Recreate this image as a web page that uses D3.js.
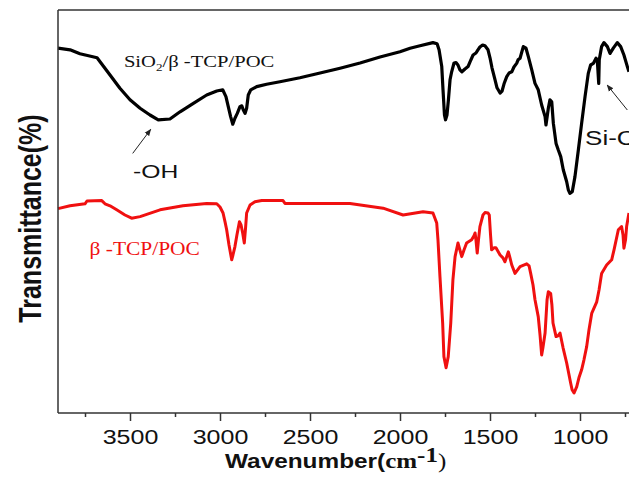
<!DOCTYPE html>
<html><head><meta charset="utf-8">
<script src="https://cdn.jsdelivr.net/npm/d3@7"></script>
<style>html,body{margin:0;padding:0;background:#fff;overflow:hidden}</style>
</head><body>
<script>
// ---- data (wavenumber cm-1, transmittance %) ----
const blackWn = [3900,3833,3778,3683,3611,3556,3500,3444,3389,3343,3278,3222,3148,3074,3018,2985,2967,2954,2941,2929,2917,2904,2889,2879,2871,2861,2852,2843,2829,2796,2741,2667,2556,2444,2333,2222,2111,2000,1944,1889,1817,1794,1783,1768,1761,1753,1747,1739,1731,1722,1713,1700,1689,1678,1667,1656,1639,1622,1611,1594,1578,1567,1556,1541,1528,1511,1500,1489,1472,1461,1444,1433,1422,1407,1394,1379,1367,1352,1344,1333,1315,1300,1287,1268,1250,1232,1213,1194,1189,1176,1167,1157,1148,1133,1121,1107,1093,1074,1065,1056,1043,1028,1009,991,972,954,941,926,911,904,896,893,880,867,848,833,815,793,774,756,737,728];
const blackT = [91.2,90.8,89.8,88.8,84.5,81.2,78.3,76.2,74.5,73.3,73.5,75.3,77.4,79.5,80.5,80.8,79.1,76.6,74.1,72.2,73.7,74.9,76.6,76.8,75.8,74.9,76.2,79.5,80.8,81.6,82.2,82.8,83.8,85.0,86.2,87.5,89.0,90.3,91.2,91.8,92.6,92.3,90.8,86.6,80.8,74.5,73.3,74.5,78.3,83.3,85.3,87.5,87.6,87.0,85.8,85.3,86.0,86.6,87.8,89.5,90.0,90.8,91.5,92.0,91.8,90.8,88.8,86.3,83.3,81.3,80.0,80.5,82.3,84.1,85.0,85.3,86.5,87.4,88.3,88.7,91.6,91.2,89.1,85.8,82.4,80.8,77.0,74.1,72.0,76.2,78.3,77.8,72.4,67.4,65.8,64.1,60.8,57.8,55.8,54.9,55.3,59.1,65.8,72.4,79.1,84.9,87.0,87.4,88.7,88.3,82.4,88.3,91.6,92.6,91.6,89.9,91.2,92.6,91.6,89.5,86.6,85.3];

const redWn = [3900,3833,3750,3739,3657,3639,3611,3574,3528,3491,3444,3333,3206,3074,3018,3000,2983,2972,2963,2950,2935,2928,2917,2906,2892,2883,2874,2865,2858,2852,2833,2806,2768,2650,2639,2278,2094,1983,1872,1817,1796,1789,1778,1763,1756,1744,1732,1718,1706,1694,1678,1657,1644,1630,1602,1589,1583,1578,1571,1564,1556,1539,1528,1511,1504,1497,1491,1478,1467,1444,1428,1417,1398,1389,1379,1361,1333,1296,1283,1274,1261,1250,1232,1222,1213,1206,1194,1183,1176,1163,1156,1150,1133,1122,1111,1094,1074,1052,1044,1033,1018,1006,991,978,963,950,935,907,894,880,852,824,811,787,769,761,756,747,741,728];
const redT = [51.1,51.8,52.3,53.0,53.1,52.3,51.8,50.8,49.5,48.7,49.1,50.8,51.8,52.4,52.3,51.5,50.0,47.8,45.8,42.0,38.3,39.5,41.6,44.5,47.8,47.0,45.0,42.5,46.3,50.0,52.0,52.8,53.1,53.1,52.4,52.4,51.2,49.5,50.3,50.0,47.5,43.3,34.1,22.5,14.1,11.3,14.1,22.5,33.3,39.1,42.5,39.1,40.8,42.5,43.3,44.3,45.0,43.3,40.0,43.3,46.6,49.5,50.1,50.0,49.5,44.5,40.8,41.3,41.3,39.5,38.8,37.8,40.3,38.8,37.0,34.9,36.6,37.3,36.8,34.9,32.0,28.3,24.1,19.5,14.5,16.3,20.0,28.3,30.3,29.9,27.0,22.5,19.1,19.3,20.0,16.3,12.5,7.5,5.8,5.0,6.6,8.8,10.8,13.3,16.6,20.8,24.9,27.8,30.8,34.9,37.0,38.3,40.8,45.8,46.6,44.5,41.2,43.3,46.6,50.0];

const majorTicks = [3500,3000,2500,2000,1500,1000];
const minorTicks = [3750,3250,2750,2250,1750,1250,750];
const xTitle = "Wavenumber(";
const yTitle = "Transmittance(%)";
const labelBlack = "SiO2/β -TCP/POC";
const labelRed = "β -TCP/POC";

// ---- drawing ----
const W = 629, H = 480;
const SX = 1.25; // horizontal text stretch seen in the reference
const svg = d3.select("body").append("svg").attr("width", W).attr("height", H)
  .style("font-family", "'Liberation Sans', Arial, sans-serif");

const x = d3.scaleLinear().domain([3900, 700]).range([58, 634]);
const y = d3.scaleLinear().domain([0, 100.75]).range([413, 10]);

const line = d3.line().x(d => x(d[0])).y(d => y(d[1]));
const blackData = blackWn.map((w, i) => [w, blackT[i]]);
const redData = redWn.map((w, i) => [w, redT[i]]);

svg.append("path").datum(redData).attr("d", line)
  .attr("fill", "none").attr("stroke", "#f01010").attr("stroke-width", 3).attr("stroke-linejoin", "round");
svg.append("path").datum(blackData).attr("d", line)
  .attr("fill", "none").attr("stroke", "#000").attr("stroke-width", 3.2).attr("stroke-linejoin", "round");

// frame
const frameColor = "#333";
svg.append("line").attr("x1", x(3900)).attr("x2", W).attr("y1", y(100.75)).attr("y2", y(100.75))
  .attr("stroke", frameColor).attr("stroke-width", 1.5);
svg.append("line").attr("x1", x(3900)).attr("x2", x(3900)).attr("y1", y(100.75)).attr("y2", y(0))
  .attr("stroke", frameColor).attr("stroke-width", 1.5);

// x axis
const gx = svg.append("g").attr("transform", `translate(0,${y(0)})`)
  .call(d3.axisBottom(x).tickValues(majorTicks).tickSize(8).tickSizeOuter(0).tickFormat(d3.format("d")));
gx.select(".domain").attr("stroke", frameColor).attr("stroke-width", 1.5).attr("d", `M${x(3900)},0H${W}`);
gx.selectAll(".tick line").attr("stroke", frameColor).attr("stroke-width", 1.5);
gx.selectAll(".tick text").attr("y", 31).attr("dy", 0).attr("fill", "#111")
  .attr("font-size", 20).attr("font-family", "'Liberation Sans', Arial, sans-serif")
  .attr("transform", `scale(${SX},1)`);
const gxm = svg.append("g").attr("transform", `translate(0,${y(0)})`)
  .call(d3.axisBottom(x).tickValues(minorTicks).tickSize(4).tickSizeOuter(0).tickFormat(""));
gxm.select(".domain").remove();
gxm.selectAll(".tick line").attr("stroke", frameColor).attr("stroke-width", 1.5);

// x title
const xt = svg.append("text").attr("transform", `translate(225,467.5) scale(${SX},1)`)
  .attr("fill", "#111");
xt.append("tspan").text(xTitle).attr("font-weight", "bold").attr("font-size", 19.5);
xt.append("tspan").text("cm").attr("font-family", "'Liberation Serif', 'Times New Roman', serif")
  .attr("font-weight", "bold").attr("font-size", 20);
xt.append("tspan").text("-1").attr("font-family", "'Liberation Serif', 'Times New Roman', serif")
  .attr("font-weight", "bold").attr("font-size", 20).attr("dy", -6);
xt.append("tspan").text(")").attr("font-family", "'Liberation Serif', 'Times New Roman', serif")
  .attr("font-size", 20).attr("dy", 6);

// y title
svg.append("text").attr("transform", `translate(41,218.5) scale(${SX},1) rotate(-90)`)
  .attr("text-anchor", "middle").attr("font-weight", "bold").attr("font-size", 25)
  .attr("fill", "#111").text(yTitle);

// series labels
const lb = svg.append("text").attr("transform", `translate(${x(3534)},${y(86.6)}) scale(${SX},1)`)
  .attr("font-family", "'Liberation Serif', 'Times New Roman', serif").attr("font-size", 16.5).attr("fill", "#111");
lb.append("tspan").text(labelBlack.slice(0, 3));
lb.append("tspan").text("2").attr("font-size", 10.5).attr("dy", 4);
lb.append("tspan").text(labelBlack.slice(4)).attr("dy", -4);

svg.append("text").attr("transform", `translate(${x(3725)},${y(39.5)}) scale(1.16,1)`)
  .attr("font-family", "'Liberation Serif', 'Times New Roman', serif").attr("font-size", 18.5)
  .attr("fill", "#f01010").text(labelRed);

// annotations
const defs = svg.append("defs");
defs.append("marker").attr("id", "ah").attr("viewBox", "0 0 10 10").attr("refX", 9).attr("refY", 5)
  .attr("markerWidth", 7).attr("markerHeight", 7).attr("orient", "auto")
  .append("path").attr("d", "M0,1 L10,5 L0,9 Z").attr("fill", "#222");

svg.append("line").attr("x1", x(3485)).attr("y1", y(64.9)).attr("x2", x(3385)).attr("y2", y(70.9))
  .attr("stroke", "#222").attr("stroke-width", 1).attr("marker-end", "url(#ah)");
svg.append("text").attr("transform", `translate(${x(3483)},${y(58.8)}) scale(1.3,1)`)
  .attr("font-size", 19).attr("fill", "#111").text("-OH");

svg.append("line").attr("x1", x(737)).attr("y1", y(75.75)).attr("x2", x(849)).attr("y2", y(82))
  .attr("stroke", "#222").attr("stroke-width", 1).attr("marker-end", "url(#ah)");
svg.append("text").attr("transform", `translate(${x(972)},${y(67)}) scale(1.3,1)`)
  .attr("font-size", 20).attr("fill", "#111").text("Si-O");
</script>
</body></html>
